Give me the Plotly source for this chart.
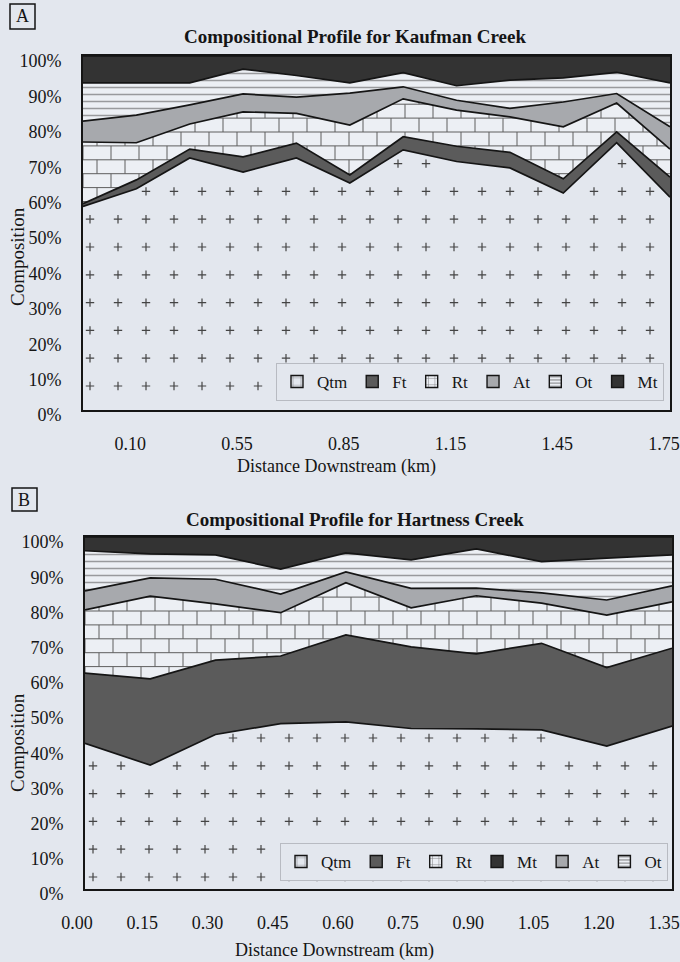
import numpy as np
import plotly.graph_objects as go

W, H = 680, 962
PAPER = "#e3e7ee"
PLOT_BG = "#eceff4"
INK = "#151515"
SERIF = "Liberation Serif, Times New Roman, serif"

# ---------------- Kaufman Creek (panel A), composition in % ----------------
kauf_dist = ["0.00", "0.10", "0.40", "0.55", "0.70", "0.85",
             "1.00", "1.15", "1.30", "1.45", "1.60", "1.75"]
kauf_qtm = [57.5, 62.5, 71.2, 67.2, 71.2, 64.1, 73.5, 70.2, 68.4, 61.3, 75.5, 60.1]
kauf_ft = [0.8, 2.5, 2.5, 4.3, 4.2, 2.3, 3.7, 4.3, 4.4, 4.0, 3.1, 5.7]
kauf_rt = [17.4, 10.5, 7.1, 12.7, 8.4, 14.1, 10.7, 10.2, 10.0, 14.7, 8.1, 7.9]
kauf_at = [5.9, 7.8, 5.4, 5.1, 4.6, 9.0, 3.4, 2.8, 2.4, 7.0, 2.7, 6.3]
kauf_ot = [10.8, 9.1, 6.2, 7.0, 6.1, 2.9, 4.0, 4.1, 8.0, 6.8, 6.0, 12.4]
kauf_mt = [7.6, 7.6, 7.6, 3.7, 5.5, 7.6, 4.7, 8.4, 6.8, 6.2, 4.6, 7.6]

# ---------------- Hartness Creek (panel B), composition in % ----------------
hart_dist = ["0.00", "0.15", "0.30", "0.45", "0.60",
             "0.75", "0.90", "1.05", "1.20", "1.35"]
hart_qtm = [41.4, 35.2, 43.9, 47.0, 47.5, 45.6, 45.5, 45.2, 40.6, 46.3]
hart_ft = [19.9, 24.5, 21.1, 19.2, 24.7, 23.2, 21.3, 24.6, 22.3, 22.1]
hart_rt = [18.0, 23.5, 16.0, 12.3, 14.8, 11.1, 16.5, 11.4, 14.9, 13.2]
hart_at = [5.4, 5.2, 7.0, 5.3, 3.1, 5.5, 2.2, 2.9, 4.3, 4.5]
hart_ot = [11.4, 6.8, 6.9, 7.1, 5.4, 8.1, 11.1, 8.9, 11.9, 8.8]
hart_mt = [3.9, 4.8, 5.1, 9.1, 4.5, 6.5, 3.4, 7.0, 6.0, 5.1]

pct_ticks = list(range(0, 101, 10))
pct_labels = [f"{v}%" for v in pct_ticks]

stack_order = ["Qtm", "Ft", "Rt", "At", "Ot", "Mt"]
kauf_legend = ["Qtm", "Ft", "Rt", "At", "Ot", "Mt"]
hart_legend = ["Qtm", "Ft", "Rt", "Mt", "At", "Ot"]

# fill style of each rock class
STYLE = {
    "Qtm": dict(fillcolor=PAPER),
    "Ft": dict(fillcolor="#5b5b5b"),
    "Rt": dict(fillcolor="rgba(0,0,0,0)"),
    "At": dict(fillcolor="#a7a9ad"),
    "Ot": dict(fillcolor=PLOT_BG,
               fillpattern=dict(shape="-", size=7, solidity=0.22,
                                fgcolor="#454545", bgcolor=PLOT_BG)),
    "Mt": dict(fillcolor="#333333"),
}
LEGEND_MARKER = {
    "Qtm": dict(color=PAPER, pattern=dict(shape="+", size=12, solidity=0.12,
                                          fgcolor=INK, bgcolor=PAPER)),
    "Ft": dict(color="#5b5b5b"),
    "Rt": dict(color=PLOT_BG, pattern=dict(shape="+", size=8, solidity=0.15,
                                           fgcolor=INK, bgcolor=PLOT_BG)),
    "At": dict(color="#a7a9ad"),
    "Ot": dict(color=PLOT_BG, pattern=dict(shape="-", size=4, solidity=0.3,
                                           fgcolor=INK, bgcolor=PLOT_BG)),
    "Mt": dict(color="#333333"),
}

panels = [
    dict(name="A", title="Compositional Profile for Kaufman Creek",
         dist=kauf_dist,
         values=dict(Qtm=kauf_qtm, Ft=kauf_ft, Rt=kauf_rt, At=kauf_at, Ot=kauf_ot, Mt=kauf_mt),
         legend_order=kauf_legend, ticks_every=2, tick_start=1,
         px=(83, 670, 56, 410), plus_off=(7, 24), brick_shift=0,
         legend_pos=(276, 363), letter_box=(10, 35, 4, 29), xshift=-6,
         title_y=36, ytitle=(17, 257), xtitle=(336, 466),
         xa="x", ya="y", legend="legend"),
    dict(name="B", title="Compositional Profile for Hartness Creek",
         dist=hart_dist,
         values=dict(Qtm=hart_qtm, Ft=hart_ft, Rt=hart_rt, At=hart_at, Ot=hart_ot, Mt=hart_mt),
         legend_order=hart_legend, ticks_every=1, tick_start=0,
         px=(85, 672, 537, 889), plus_off=(8, 12), brick_shift=1,
         legend_pos=(280, 843), letter_box=(12, 37, 488, 511), xshift=-8,
         title_y=519, ytitle=(17, 743), xtitle=(334, 950),
         xa="x2", ya="y2", legend="legend2"),
]


def brick_lines(n, pw, ph, shift, row_h=13.9, brick_w=28.0):
    """Mortar lines of a running-bond brick texture, in data units."""
    xs, ys = [], []
    nrows = int(np.ceil(ph / row_h))
    for k in range(nrows + 1):
        y0 = k * row_h
        if y0 <= ph:
            xs += [0, pw, None]
            ys += [y0, y0, None]
        if k < nrows:
            y1 = min((k + 1) * row_h, ph)
            xv = 0.0 if (k + shift) % 2 == 0 else brick_w / 2
            while xv <= pw:
                xs += [xv, xv, None]
                ys += [y0, y1, None]
                xv += brick_w
    sx, sy = (n - 1) / pw, 100.0 / ph
    xd = [None if v is None else v * sx for v in xs]
    yd = [None if v is None else v * sy for v in ys]
    return xd, yd


def plus_grid(n, pw, ph, off, qtm, step=28.0, row=27.8, pad=1.8):
    """Regular grid of small crosses kept inside the Qtm band."""
    gx = np.arange(off[0], pw, step) * (n - 1) / pw
    gy = np.arange(off[1], ph, row) * 100.0 / ph
    X, Y = np.meshgrid(gx, gy)
    lim = np.interp(X, np.arange(n), qtm) - pad
    keep = Y < lim
    return X[keep], Y[keep]


fig = go.Figure()
annotations, shapes = [], []
layout_axes = {}

for p in panels:
    n = len(p["dist"])
    xi = list(range(n))
    x0, x1, yt, yb = p["px"]
    pw, ph = x1 - x0, yb - yt

    # brick texture (visible only through the transparent Rt band)
    bx, by = brick_lines(n, pw, ph, p["brick_shift"])
    fig.add_trace(go.Scatter(x=bx, y=by, mode="lines", xaxis=p["xa"], yaxis=p["ya"],
                             line=dict(color="#5e5e5e", width=1),
                             showlegend=False, hoverinfo="skip"))

    # stacked composition bands
    for s in stack_order:
        fig.add_trace(go.Scatter(
            x=xi, y=p["values"][s], name=s, stackgroup="stk" + p["name"],
            mode="lines", line=dict(color=INK, width=1.7),
            xaxis=p["xa"], yaxis=p["ya"], showlegend=False,
            hovertemplate=s + ": %{y:.1f}%<extra></extra>", **STYLE[s]))

    # small crosses of the Qtm texture
    qx, qy = plus_grid(n, pw, ph, p["plus_off"], p["values"]["Qtm"])
    fig.add_trace(go.Scatter(x=qx, y=qy, mode="markers", xaxis=p["xa"], yaxis=p["ya"],
                             marker=dict(symbol="cross-thin", size=6,
                                         line=dict(color="#444444", width=1.2)),
                             showlegend=False, hoverinfo="skip"))

    # legend swatches
    for s in p["legend_order"]:
        fig.add_trace(go.Bar(x=[None], y=[None], name=s, xaxis=p["xa"], yaxis=p["ya"],
                             legend=p["legend"],
                             marker=dict(line=dict(color=INK, width=1.4), **LEGEND_MARKER[s]),
                             hoverinfo="skip"))

    tv = list(range(p["tick_start"], n, p["ticks_every"]))
    xname = "xaxis" if p["xa"] == "x" else "xaxis" + p["xa"][1:]
    yname = "yaxis" if p["ya"] == "y" else "yaxis" + p["ya"][1:]
    layout_axes[xname] = dict(
        domain=[x0 / W, x1 / W], range=[0, n - 1], anchor=p["ya"],
        tickvals=tv, ticktext=[p["dist"][i] for i in tv],
        showgrid=False, zeroline=False, showline=True, mirror=True,
        linecolor=INK, linewidth=2, ticks="", ticklabelstandoff=16,
        ticklabelshift=p["xshift"], automargin=False, ticklabeloverflow="allow",
        tickfont=dict(family=SERIF, size=18, color=INK), fixedrange=True)
    layout_axes[yname] = dict(
        domain=[1 - yb / H, 1 - yt / H], range=[0, 100], anchor=p["xa"],
        tickvals=pct_ticks, ticktext=pct_labels,
        showgrid=False, zeroline=False, showline=True, mirror=True,
        linecolor=INK, linewidth=2, ticks="", ticklabelstandoff=16,
        ticklabelshift=5, automargin=False, ticklabeloverflow="allow",
        tickfont=dict(family=SERIF, size=18, color=INK), fixedrange=True)

    lx, ly = p["legend_pos"]
    layout_axes[p["legend"]] = dict(
        orientation="h", x=lx / W, y=1 - ly / H, xanchor="left", yanchor="top",
        bgcolor=PAPER, bordercolor="#b8bbc2", borderwidth=1, itemwidth=30,
        font=dict(family=SERIF, size=17, color=INK), traceorder="normal")

    # chart title
    annotations.append(dict(text="<b>" + p["title"] + "</b>", x=355 / W, y=1 - p["title_y"] / H,
                            xref="paper", yref="paper", showarrow=False,
                            xanchor="center", yanchor="middle",
                            font=dict(family=SERIF, size=19, color=INK)))
    # axis titles
    annotations.append(dict(text="Composition", x=p["ytitle"][0] / W, y=1 - p["ytitle"][1] / H,
                            xref="paper", yref="paper", showarrow=False, textangle=-90,
                            xanchor="center", yanchor="middle",
                            font=dict(family=SERIF, size=19, color=INK)))
    annotations.append(dict(text="Distance Downstream (km)", x=p["xtitle"][0] / W,
                            y=1 - p["xtitle"][1] / H, xref="paper", yref="paper",
                            showarrow=False, xanchor="center", yanchor="middle",
                            font=dict(family=SERIF, size=18, color=INK)))
    # panel letter in a box
    bx0, bx1, by0, by1 = p["letter_box"]
    shapes.append(dict(type="rect", xref="paper", yref="paper",
                       x0=bx0 / W, x1=bx1 / W, y0=1 - by1 / H, y1=1 - by0 / H,
                       line=dict(color=INK, width=1.5), fillcolor="rgba(0,0,0,0)"))
    annotations.append(dict(text=p["name"], x=(bx0 + bx1) / 2 / W, y=1 - (by0 + by1) / 2 / H,
                            xref="paper", yref="paper", showarrow=False,
                            xanchor="center", yanchor="middle",
                            font=dict(family=SERIF, size=18, color=INK)))

fig.update_layout(
    width=W, height=H, margin=dict(l=0, r=0, t=0, b=0, autoexpand=False),
    paper_bgcolor=PAPER, plot_bgcolor=PLOT_BG,
    annotations=annotations, shapes=shapes, bargap=0.2,
    **layout_axes,
)

fig.write_html("out.html")
